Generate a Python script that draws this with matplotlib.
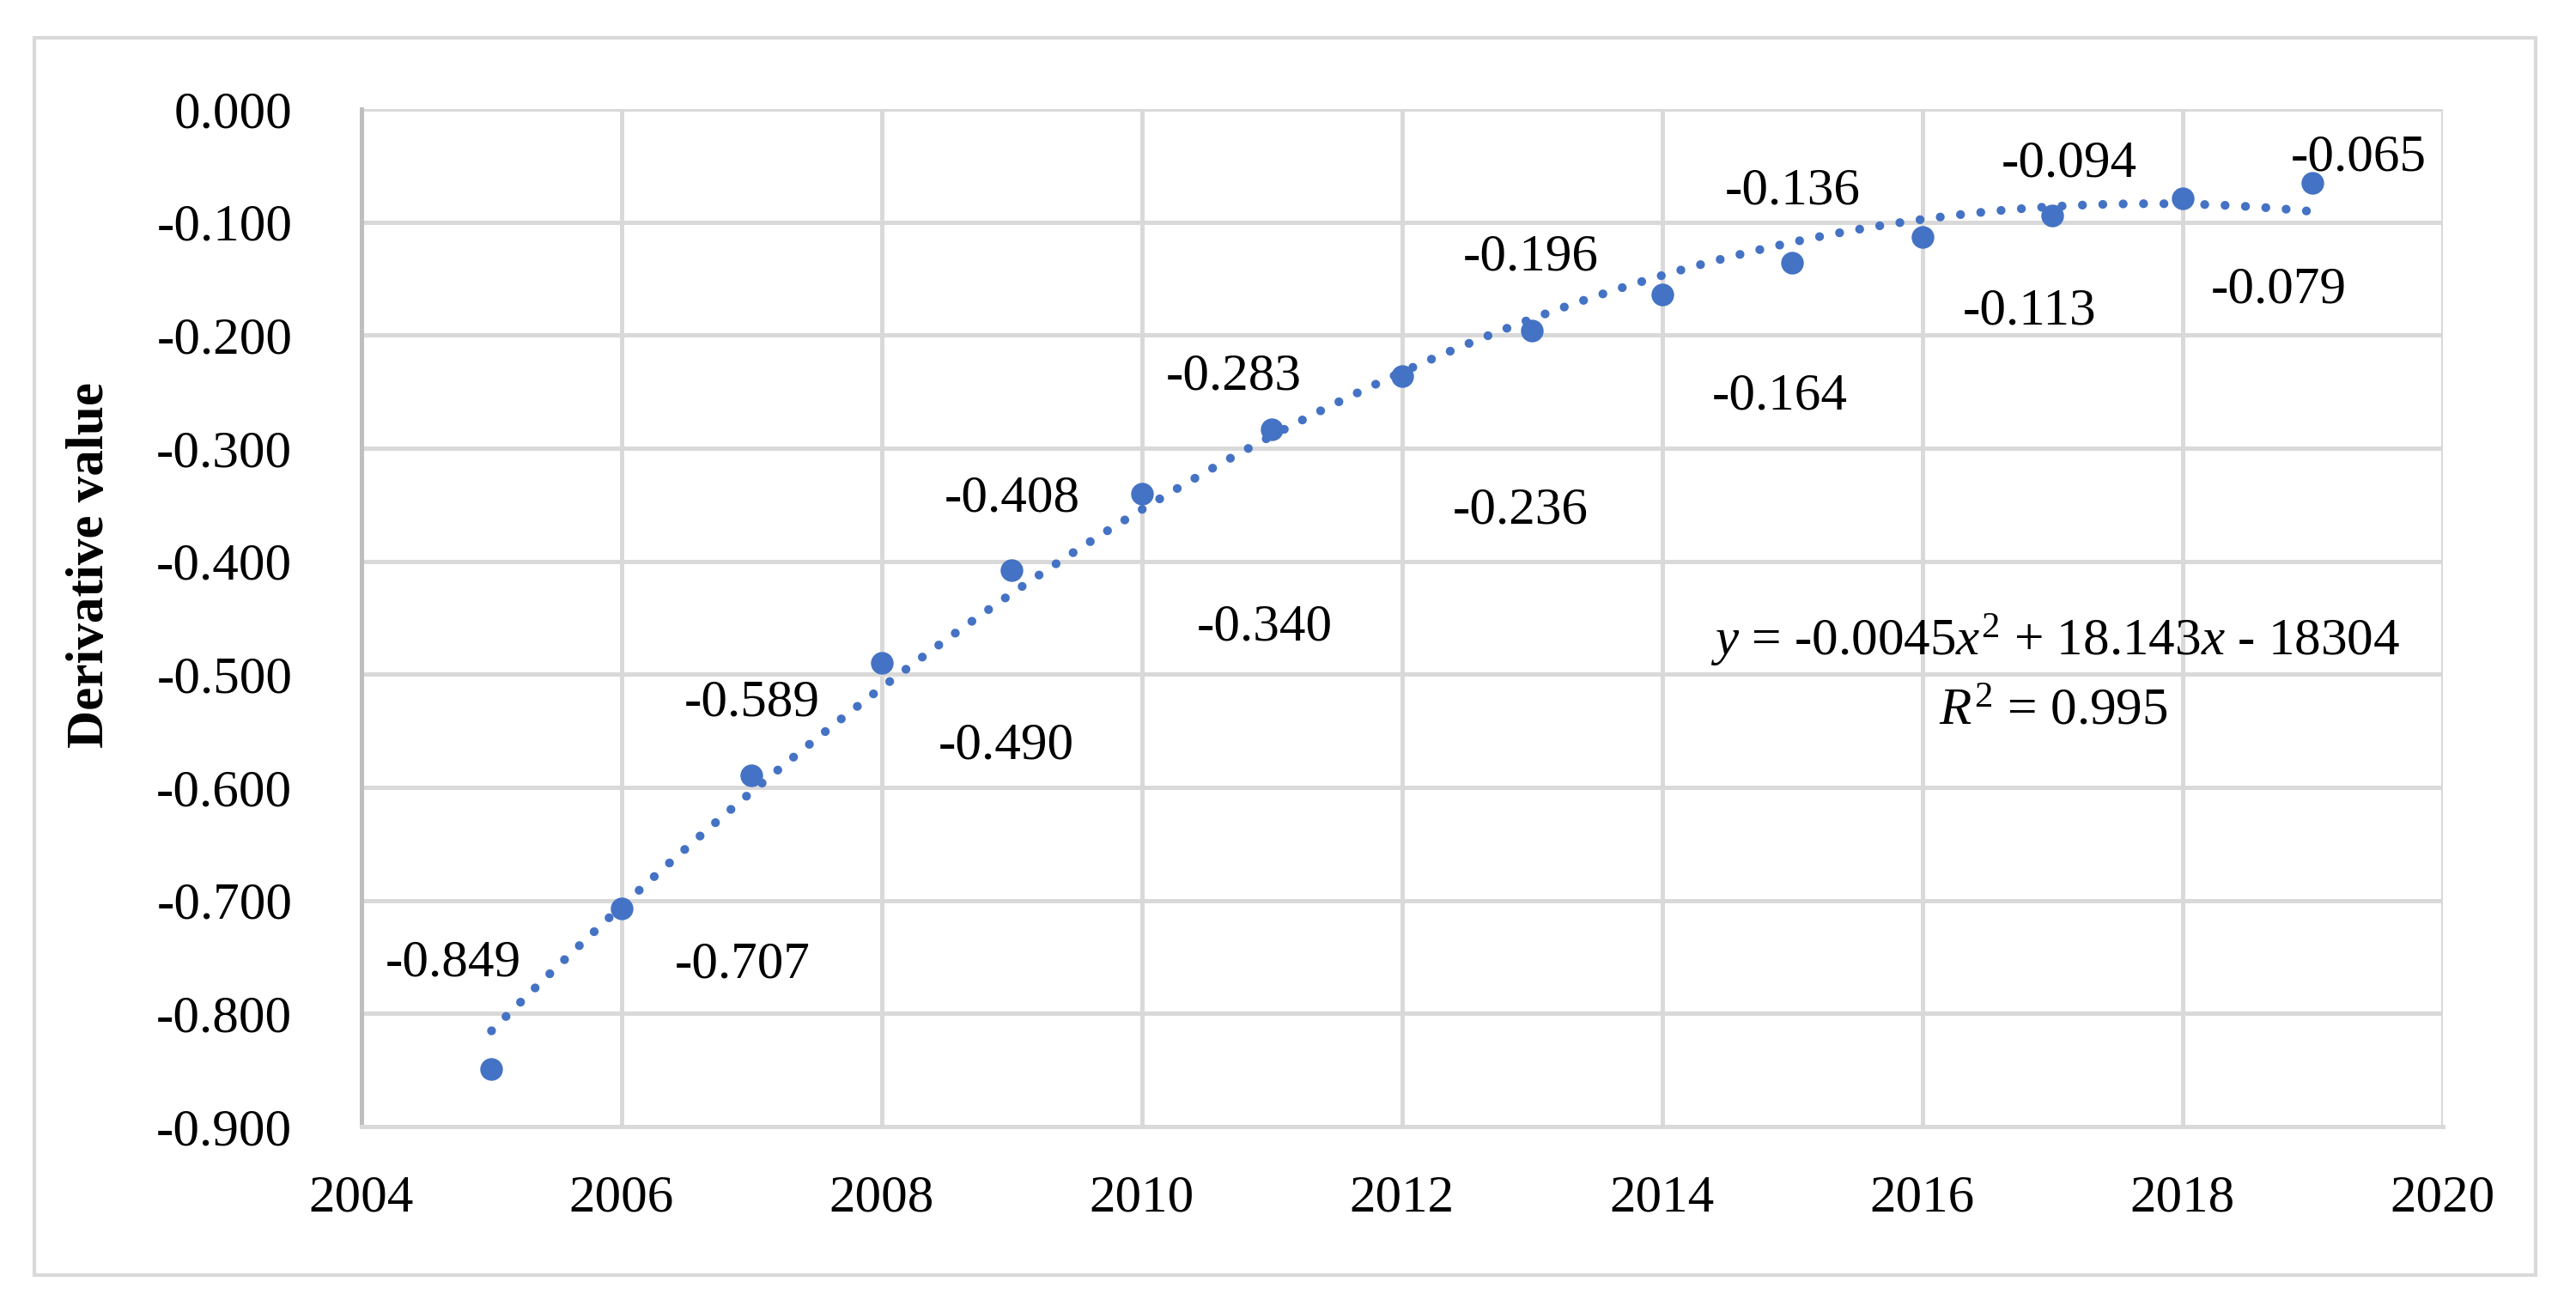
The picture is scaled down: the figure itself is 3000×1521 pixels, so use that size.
import matplotlib
matplotlib.use('Agg')
import matplotlib.pyplot as plt
import numpy as np
from matplotlib.patches import Rectangle
from matplotlib.ticker import FormatStrFormatter

plt.rcParams['font.family'] = ['Liberation Serif', 'DejaVu Serif']
plt.rcParams['axes.unicode_minus'] = False
plt.rcParams['mathtext.fontset'] = 'custom'
plt.rcParams['mathtext.rm'] = 'Liberation Serif'
plt.rcParams['mathtext.it'] = 'Liberation Serif:italic'

# data
years = [2005, 2006, 2007, 2008, 2009, 2010, 2011, 2012,
         2013, 2014, 2015, 2016, 2017, 2018, 2019]
values = [-0.849, -0.707, -0.589, -0.490, -0.408, -0.340, -0.283, -0.236,
          -0.196, -0.164, -0.136, -0.113, -0.094, -0.079, -0.065]
equation = r'$y$ = -0.0045$x^2$ + 18.143$x$ - 18304'
r2_text = r'$R^2$ = 0.995'

# label offsets (pixels, +y = up)
label_offsets = [(-45, 123), (141, -66), (0, 84), (145, -97), (0, 83),
                 (143, -156), (-45, 61), (138, -157), (-2, 85), (137, -119),
                 (0, 83), (125, -87), (19, 60), (112, -107), (53, 29)]

blue = '#4472C4'
grid_c = '#D9D9D9'
fs = 22

fig = plt.figure(figsize=(15, 7.605), dpi=200)
ax = fig.add_axes([0.1403, 0.1374, 0.8080, 0.7791])

# outer chart border
fig.patches.append(Rectangle((0.0133, 0.0237), 0.9710, 0.9474, transform=fig.transFigure,
                             fill=False, edgecolor=grid_c, linewidth=1.5))

# trend line (2nd order polynomial)
coef = np.polyfit(years, values, 2)
xs = np.linspace(years[0], years[-1], 400)
ax.plot(xs, np.polyval(coef, xs), color=blue, linewidth=3.7,
        linestyle=(0, (0.01, 2.3)), dash_capstyle='round', zorder=3)

ax.plot(years, values, 'o', color=blue, markersize=8.5, zorder=4)

for x, y, (dx, dy) in zip(years, values, label_offsets):
    ax.annotate('%.3f' % y, (x, y), xytext=(dx, dy), textcoords='offset pixels',
                ha='center', va='center', fontsize=fs, color='black', zorder=5)

fig.text(2393 / 3000, 1 - 746 / 1521, equation, fontsize=fs, ha='center', va='center')
fig.text(2391 / 3000, 1 - 829 / 1521, r2_text, fontsize=fs, ha='center', va='center')

ax.set_xlim(2004, 2020)
ax.set_ylim(-0.9, 0)
ax.set_xticks(np.arange(2004, 2021, 2))
ax.set_yticks(np.linspace(-0.9, 0, 10))
ax.yaxis.set_major_formatter(FormatStrFormatter('%.3f'))
ax.tick_params(axis='both', length=0, labelsize=fs)
ax.tick_params(axis='y', pad=29)
ax.tick_params(axis='x', pad=20)

ax.set_axisbelow(True)
ax.grid(True, color=grid_c, linewidth=1.8)
for side in ['top', 'right']:
    ax.spines[side].set_visible(False)
ax.spines['left'].set_color('#BFBFBF')
ax.spines['left'].set_linewidth(1.8)
ax.spines['bottom'].set_color(grid_c)
ax.spines['bottom'].set_linewidth(1.8)

ax.set_ylabel('Derivative value', fontsize=fs, fontweight='bold')
ax.yaxis.set_label_coords(133 / 3000, 1 - 658 / 1521, transform=fig.transFigure)

plt.savefig('out.png', dpi=200)
